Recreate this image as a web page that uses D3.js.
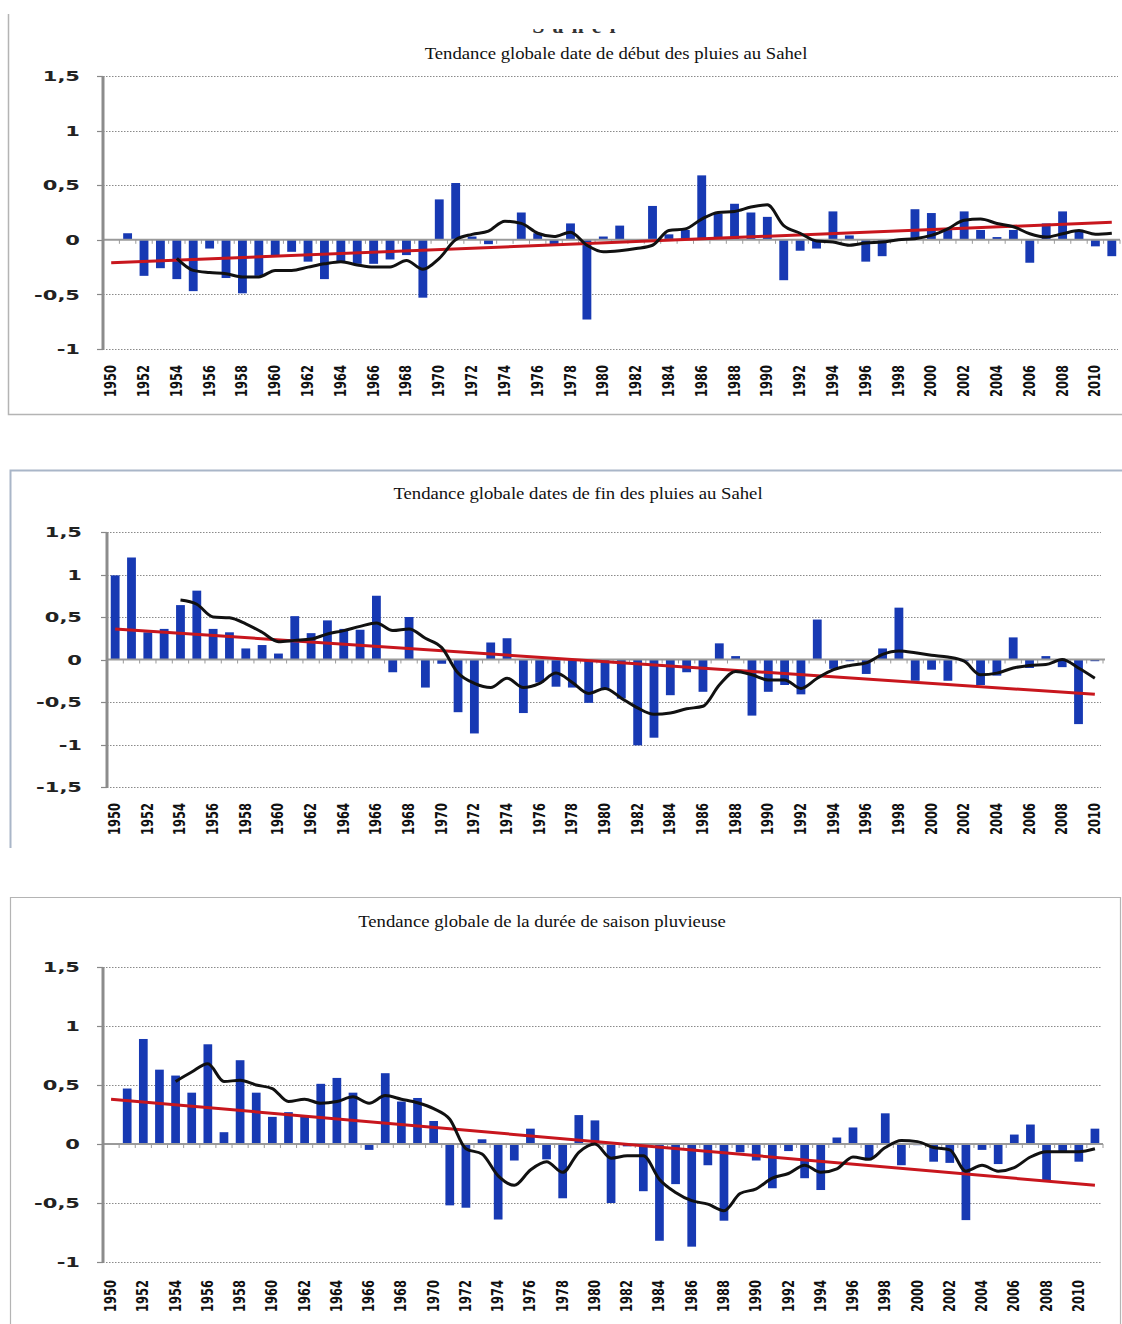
<!DOCTYPE html>
<html lang="fr">
<head>
<meta charset="utf-8">
<title>Tendances des pluies au Sahel</title>
<script src="https://cdn.jsdelivr.net/npm/d3@7"></script>
<style>
  body { margin: 0; background: #fff; }
  svg { display: block; }
</style>
</head>
<body>
<script>
// categories (years)
var years62 = d3.range(1950, 2012);
var years61 = d3.range(1950, 2011);

// panel 1 - debut des pluies
var debutVals = [0, 0.06, -0.33, -0.26, -0.36, -0.47, -0.08, -0.35, -0.49, -0.33,
  -0.14, -0.11, -0.2, -0.36, -0.2, -0.22, -0.22, -0.18, -0.14, -0.53,
  0.37, 0.52, 0.03, -0.04, 0, 0.25, 0.06, -0.05, 0.15, -0.73,
  0.03, 0.13, 0, 0.31, 0.05, 0.09, 0.59, 0.24, 0.33, 0.25,
  0.21, -0.37, -0.1, -0.08, 0.26, 0.04, -0.2, -0.15, 0, 0.28,
  0.245, 0.09, 0.26, 0.09, 0.025, 0.09, -0.21, 0.15, 0.26, 0.09,
  -0.06, -0.15];
// moving average, from 1954
var debutMA = [-0.17, -0.28, -0.30, -0.31, -0.34, -0.34,
  -0.28, -0.28, -0.25, -0.22, -0.20, -0.23, -0.25, -0.25, -0.19, -0.27,
  -0.17, 0.0, 0.05, 0.08, 0.17, 0.15, 0.06, 0.03, 0.07, -0.05,
  -0.11, -0.10, -0.08, -0.05, 0.085, 0.10, 0.19, 0.25, 0.26, 0.30,
  0.32, 0.13, 0.06, -0.01, -0.02, -0.05, -0.03, -0.02, 0.0, 0.01,
  0.04, 0.10, 0.18, 0.19, 0.15, 0.12, 0.055, 0.025, 0.055, 0.085,
  0.05, 0.06];
var debutTrend = [-0.21, 0.16];

// panel 2 - fin des pluies
var finVals = [0.99, 1.20, 0.32, 0.36, 0.64, 0.81, 0.36, 0.32, 0.13, 0.17,
  0.07, 0.51, 0.31, 0.46, 0.36, 0.35, 0.75, -0.15, 0.50, -0.33,
  -0.05, -0.62, -0.87, 0.20, 0.25, -0.63, -0.27, -0.32, -0.33, -0.51,
  -0.34, -0.46, -1.01, -0.92, -0.42, -0.15, -0.38, 0.19, 0.04, -0.66,
  -0.38, -0.30, -0.41, 0.47, -0.11, -0.02, -0.17, 0.13, 0.61, -0.25,
  -0.12, -0.25, -0.02, -0.30, -0.19, 0.26, -0.10, 0.04, -0.09, -0.76,
  -0.02];
var finMA = [0.70, 0.65, 0.50, 0.49, 0.42, 0.32,
  0.21, 0.225, 0.24, 0.30, 0.34, 0.39, 0.43, 0.34, 0.36, 0.25,
  0.14, -0.16, -0.28, -0.33, -0.22, -0.33, -0.28, -0.16, -0.27, -0.40,
  -0.34, -0.455, -0.57, -0.645, -0.63, -0.58, -0.55, -0.30, -0.14, -0.18,
  -0.24, -0.24, -0.34, -0.22, -0.12, -0.07, -0.04, 0.06, 0.10, 0.08,
  0.05, 0.03, -0.02, -0.18, -0.16, -0.10, -0.07, -0.06, 0.0, -0.10,
  -0.22];
var finTrend = [0.36, -0.41];

// panel 3 - duree de saison
var dureeVals = [0, 0.47, 0.89, 0.63, 0.58, 0.435, 0.845, 0.10, 0.71, 0.435,
  0.23, 0.27, 0.23, 0.51, 0.56, 0.435, -0.05, 0.60, 0.36, 0.39,
  0.195, -0.52, -0.54, 0.04, -0.64, -0.14, 0.13, -0.13, -0.46, 0.245,
  0.20, -0.50, -0.02, -0.40, -0.82, -0.34, -0.87, -0.18, -0.65, -0.07,
  -0.14, -0.375, -0.06, -0.29, -0.39, 0.055, 0.14, -0.12, 0.26, -0.18,
  -0.01, -0.15, -0.16, -0.645, -0.05, -0.17, 0.08, 0.165, -0.31, -0.07,
  -0.15, 0.13];
var dureeMA = [0.53, 0.61, 0.68, 0.53, 0.54, 0.50,
  0.47, 0.36, 0.38, 0.345, 0.36, 0.40, 0.345, 0.41, 0.38, 0.35,
  0.30, 0.21, -0.04, -0.085, -0.27, -0.35, -0.22, -0.15, -0.24, -0.07,
  0.0, -0.12, -0.10, -0.10, -0.30, -0.41, -0.48, -0.51, -0.565, -0.42,
  -0.38, -0.29, -0.25, -0.18, -0.24, -0.21, -0.11, -0.13, -0.03, 0.03,
  0.02, -0.03, -0.05, -0.23, -0.18, -0.23, -0.20, -0.11, -0.065, -0.065,
  -0.065, -0.04];
var dureeTrend = [0.38, -0.35];

var ticksA = [-1, -0.5, 0, 0.5, 1, 1.5];
var ticksB = [-1.5, -1, -0.5, 0, 0.5, 1, 1.5];

var W = 1122, H = 1324;
var svg = d3.select("body").append("svg")
  .attr("width", W).attr("height", H);

// frames round the three charts
var frame = svg.append("g").attr("fill", "none");
frame.append("path").attr("d", "M8.5,14V414.5H1122").attr("stroke", "#b4b4b4").attr("stroke-width", 1.5);
frame.append("path").attr("d", "M1122,470.5H10.5V848").attr("stroke", "#a9b6c8").attr("stroke-width", 2);
frame.append("path").attr("d", "M10.5,1324V897.5H1120.5V1324").attr("stroke", "#b4b4b4").attr("stroke-width", 1.2);

// cut-off heading at the very top
svg.append("clipPath").attr("id", "topclip")
  .append("rect").attr("x", 0).attr("y", 29).attr("width", W).attr("height", 8);
svg.append("text").attr("clip-path", "url(#topclip)")
  .attr("x", 578).attr("y", 33).attr("text-anchor", "middle")
  .style("font-family", "Liberation Serif").style("font-weight", "bold").style("font-size", "22px")
  .style("letter-spacing", "8px").attr("fill", "#333").text("Sahel");

function fmt(t) { return String(t).replace(".", ","); }

function drawPanel(o) {
  var g = svg.append("g");

  var x = d3.scaleBand().domain(o.years).range([o.left, o.right])
    .paddingInner(0.46).paddingOuter(0.23);
  var y = d3.scaleLinear().domain(o.domain).range([o.bottom, o.top]);
  var cx = function(yr) { return x(yr) + x.bandwidth() / 2; };

  g.append("text")
    .attr("transform", "translate(" + o.titleX + "," + o.titleY + ") scale(1.1,1)")
    .attr("text-anchor", "middle")
    .style("font-family", "Liberation Serif, Times New Roman, serif")
    .style("font-size", "17px").attr("fill", "#111")
    .text(o.title);

  // dotted gridlines
  g.selectAll(".grid").data(o.ticks.filter(function(t) { return t !== 0; }))
    .enter().append("line")
    .attr("x1", o.left).attr("x2", o.gridEnd)
    .attr("y1", function(t) { return Math.round(y(t)) + 0.5; })
    .attr("y2", function(t) { return Math.round(y(t)) + 0.5; })
    .attr("stroke", "#8a8a8a").attr("stroke-width", 1)
    .attr("stroke-dasharray", "1.5,1.5");

  // y tick marks and labels
  g.selectAll(".ytick").data(o.ticks).enter().append("line")
    .attr("x1", o.left - 6).attr("x2", o.left)
    .attr("y1", function(t) { return Math.round(y(t)) + 0.5; })
    .attr("y2", function(t) { return Math.round(y(t)) + 0.5; })
    .attr("stroke", "#888").attr("stroke-width", 1.2);

  g.selectAll(".ylab").data(o.ticks).enter().append("text")
    .attr("transform", function(t) { return "translate(" + o.labelRight + "," + y(t) + ") scale(1.45,1)"; })
    .attr("dy", "0.36em").attr("text-anchor", "end")
    .style("font-family", "DejaVu Sans").style("font-weight", "bold").style("font-size", "14.5px")
    .attr("fill", "#222")
    .text(fmt);

  // bars
  g.selectAll(".bar").data(o.vals).enter().append("rect")
    .attr("x", function(d, i) { return x(o.years[i]); })
    .attr("width", x.bandwidth())
    .attr("y", function(d) { return y(Math.max(0, d)); })
    .attr("height", function(d) { return Math.abs(y(d) - y(0)); })
    .attr("fill", "#1739b3");

  // category axis on zero
  g.append("line")
    .attr("x1", o.left).attr("x2", o.axisEnd)
    .attr("y1", y(0)).attr("y2", y(0))
    .attr("stroke", "#9a9a9a").attr("stroke-width", 2);
  g.selectAll(".xtick").data(o.years.concat([null])).enter().append("line")
    .attr("x1", function(d, i) { return o.left + x.step() * i; })
    .attr("x2", function(d, i) { return o.left + x.step() * i; })
    .attr("y1", y(0)).attr("y2", y(0) + 4)
    .attr("stroke", "#9a9a9a").attr("stroke-width", 1);

  // value axis line
  g.append("line")
    .attr("x1", o.left).attr("x2", o.left)
    .attr("y1", y(o.domain[1])).attr("y2", y(o.domain[0]))
    .attr("stroke", "#8c8c8c").attr("stroke-width", 3);

  // trend line
  var first = o.years[0], last = o.years[o.years.length - 1];
  g.append("line")
    .attr("x1", cx(first)).attr("y1", y(o.trend[0]))
    .attr("x2", cx(last)).attr("y2", y(o.trend[1]))
    .attr("stroke", "#c8161d").attr("stroke-width", 3);

  // moving average
  var line = d3.line()
    .x(function(d, i) { return cx(o.maStart + i); })
    .y(function(d) { return y(d); })
    .curve(d3.curveMonotoneX);
  g.append("path").datum(o.ma)
    .attr("d", line).attr("fill", "none")
    .attr("stroke", "#111").attr("stroke-width", 3)
    .attr("stroke-linejoin", "round");

  // year labels every other year
  g.selectAll(".xlab").data(o.years.filter(function(yr) { return yr % 2 === 0; }))
    .enter().append("text")
    .attr("transform", function(yr) { return "translate(" + (cx(yr) - 1) + "," + o.labelTop + ") scale(1.45,1) rotate(-90)"; })
    .attr("dy", "0.36em").attr("text-anchor", "end")
    .style("font-family", "DejaVu Sans").style("font-weight", "bold").style("font-size", "11.5px")
    .attr("fill", "#111")
    .text(function(yr) { return yr; });
}

drawPanel({
  title: "Tendance globale date de début des pluies au Sahel",
  titleX: 616, titleY: 59,
  years: years62, vals: debutVals, ma: debutMA, maStart: 1954, trend: debutTrend,
  domain: [-1, 1.5], ticks: ticksA,
  left: 103, right: 1120, top: 76, bottom: 349,
  gridEnd: 1118, axisEnd: 1120, labelRight: 80, labelTop: 365
});

drawPanel({
  title: "Tendance globale dates de fin des pluies au Sahel",
  titleX: 578, titleY: 499,
  years: years61, vals: finVals, ma: finMA, maStart: 1954, trend: finTrend,
  domain: [-1.5, 1.5], ticks: ticksB,
  left: 107, right: 1103, top: 532, bottom: 787,
  gridEnd: 1101, axisEnd: 1105, labelRight: 82, labelTop: 803
});

drawPanel({
  title: "Tendance globale de la durée de saison pluvieuse",
  titleX: 542, titleY: 927,
  years: years62, vals: dureeVals, ma: dureeMA, maStart: 1954, trend: dureeTrend,
  domain: [-1, 1.5], ticks: ticksA,
  left: 103, right: 1103, top: 967, bottom: 1262,
  gridEnd: 1101, axisEnd: 1103, labelRight: 80, labelTop: 1280
});
</script>
</body>
</html>
